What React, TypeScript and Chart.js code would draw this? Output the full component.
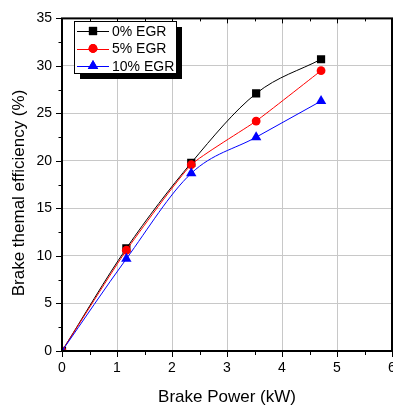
import React, { useEffect, useRef } from 'react';
import { Chart, registerables } from 'chart.js';
import { drawPoint } from 'chart.js/helpers';

Chart.register(...registerables);

const brakePower = [0, 1.17, 2.35, 3.53, 4.71];
const egr0 = [0, 10.8, 19.8, 27.1, 30.7];
const egr5 = [0, 10.6, 19.6, 24.2, 29.5];
const egr10 = [0, 9.7, 18.7, 22.5, 26.3];
const seriesLabels = ['0% EGR', '5% EGR', '10% EGR'];
const seriesColors = ['#000000', '#ff0000', '#0000ff'];
const seriesMarkers = ['rect', 'circle', 'triangle'];
const seriesRadius = [5.8, 4.4, 6];
const xTitle = 'Brake Power (kW)';
const yTitle = 'Brake themal efficiency (%)';
const FONT = '"Liberation Sans", Arial, sans-serif';

const framePlugin = {
  id: 'frameTicks',
  afterDatasetsDraw(chart: any) {
    const { ctx, chartArea } = chart;
    const { left, right, top, bottom } = chartArea;
    const xs = chart.scales.x;
    const ys = chart.scales.y;
    ctx.save();
    ctx.strokeStyle = '#000';
    ctx.lineWidth = 1;
    ctx.beginPath();
    for (let v = 0; v <= 6.001; v += 0.5) {
      const px = Math.round(xs.getPixelForValue(v)) + 0.5;
      const major = Math.abs(v - Math.round(v)) < 1e-6;
      const len = major ? 6 : 4;
      ctx.moveTo(px, bottom);
      ctx.lineTo(px, bottom + len);
      ctx.moveTo(px, top);
      ctx.lineTo(px, top + (major ? 5 : 3));
    }
    for (let v = 0; v <= 35.001; v += 2.5) {
      const py = Math.round(ys.getPixelForValue(v)) + 0.5;
      const major = Math.abs(v / 5 - Math.round(v / 5)) < 1e-6;
      const len = major ? 6 : 3.5;
      ctx.moveTo(left - len, py);
      ctx.lineTo(left, py);
    }
    ctx.stroke();
    ctx.lineWidth = 2;
    ctx.strokeRect(left, top, right - left, bottom - top);
    ctx.restore();
  },
  afterDraw(chart: any) {
    const { ctx } = chart;
    ctx.save();
    // y-axis title
    ctx.save();
    ctx.translate(19.5, 193);
    ctx.rotate(-Math.PI / 2);
    ctx.font = `17px ${FONT}`;
    ctx.fillStyle = '#000';
    ctx.textAlign = 'center';
    ctx.textBaseline = 'middle';
    ctx.fillText(yTitle, 0, 0);
    ctx.restore();
    // legend
    const bx = 74, by = 21, bw = 102, bh = 52, sh = 6;
    ctx.fillStyle = '#000';
    ctx.fillRect(bx + sh, by + sh, bw, bh);
    ctx.fillStyle = '#fff';
    ctx.fillRect(bx, by, bw, bh);
    ctx.strokeStyle = '#000';
    ctx.lineWidth = 1;
    ctx.strokeRect(bx + 0.5, by + 0.5, bw, bh);
    const rows = [31, 48.5, 66];
    ctx.font = `14px ${FONT}`;
    ctx.textBaseline = 'middle';
    ctx.textAlign = 'left';
    seriesLabels.forEach((lab, i) => {
      const y = rows[i];
      ctx.strokeStyle = seriesColors[i];
      ctx.lineWidth = 1;
      ctx.beginPath();
      ctx.moveTo(77, Math.round(y) + 0.5);
      ctx.lineTo(109, Math.round(y) + 0.5);
      ctx.stroke();
      ctx.fillStyle = seriesColors[i];
      drawPoint(ctx, { pointStyle: seriesMarkers[i], radius: seriesRadius[i], rotation: 0, borderWidth: 0 } as any, 93, y);
      ctx.fill();
      ctx.fillStyle = '#000';
      ctx.fillText(lab, 112, y + 1);
    });
    ctx.restore();
  },
};

function App() {
  const ref = useRef<HTMLCanvasElement | null>(null);
  useEffect(() => {
    if (!ref.current) return;
    const series = [egr0, egr5, egr10];
    const chart = new Chart(ref.current, {
      type: 'line',
      data: {
        datasets: series.map((vals, i) => ({
          label: seriesLabels[i],
          data: brakePower.map((x, j) => ({ x, y: vals[j] })),
          borderColor: seriesColors[i],
          backgroundColor: seriesColors[i],
          borderWidth: 1,
          pointStyle: seriesMarkers[i] as any,
          pointRadius: seriesRadius[i],
          pointBorderWidth: 0,
          cubicInterpolationMode: (i === 1 ? 'default' : 'monotone') as any,
          tension: i === 1 ? 0.15 : 0.4,
          order: 2 - i,
        })),
      },
      options: {
        animation: false,
        responsive: false,
        layout: { autoPadding: false, padding: { top: 13, right: 1, left: 0, bottom: 0 } },
        plugins: { legend: { display: false }, tooltip: { enabled: false } },
        scales: {
          x: {
            type: 'linear',
            min: 0,
            max: 6,
            ticks: { stepSize: 1, color: '#000', font: { family: FONT, size: 14 }, padding: 9, maxRotation: 0 },
            grid: { color: '#c8c8c8', drawTicks: false, lineWidth: 1 },
            border: { display: false },
            title: { display: true, text: xTitle, color: '#000', font: { family: FONT, size: 17 }, padding: { top: 0, bottom: 0 } },
            afterFit(scale: any) {
              scale.height = 57;
              scale.paddingLeft = 0;
              scale.paddingRight = 0;
            },
          },
          y: {
            type: 'linear',
            min: 0,
            max: 35,
            ticks: { stepSize: 5, color: '#000', font: { family: FONT, size: 14 }, padding: 10 },
            grid: { color: '#c8c8c8', drawTicks: false, lineWidth: 1 },
            border: { display: false },
            title: { display: false, text: yTitle },
            afterFit(scale: any) {
              scale.width = 62;
            },
          },
        },
      },
      plugins: [framePlugin],
    });
    return () => chart.destroy();
  }, []);
  return (
    <div style={{ position: 'fixed', left: 0, top: 0, width: 393, height: 408, background: '#fff', overflow: 'hidden' }}>
      <canvas ref={ref} width={393} height={408} style={{ width: 393, height: 408, display: 'block' }} />
    </div>
  );
}

export default App;
